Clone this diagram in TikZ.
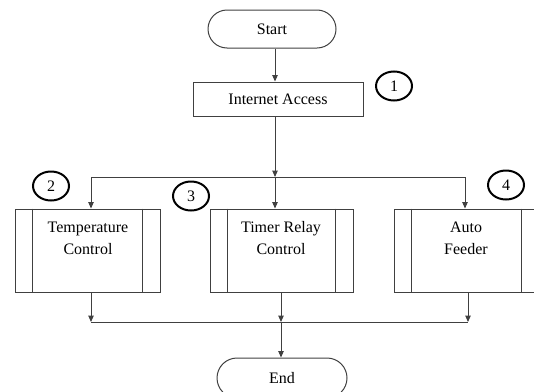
\documentclass[tikz,border=0pt]{standalone}
\usepackage{fontspec}
\setmainfont{Liberation Serif}
\usetikzlibrary{arrows.meta,shapes.geometric}
\tikzset{
  ln/.style={draw=black!75, line width=1pt},
  arr/.style={ln, -{Triangle[length=6.5pt,width=5.5pt]}},
  term/.style={ln, rounded corners=19pt, minimum width=128pt, minimum height=38pt, inner sep=0pt},
  proc/.style={ln, minimum width=170pt, minimum height=34pt, inner sep=0pt},
  pbox/.style={ln, minimum width=145pt, minimum height=83pt, inner sep=0pt},
  txt/.style={align=center, font=\fontsize{16}{22}\selectfont, inner sep=0pt},
  num/.style={ellipse, draw=black, line width=2pt, minimum width=36pt, minimum height=29pt, inner sep=0pt, font=\fontsize{16}{18}\selectfont}
}
\begin{document}
\begin{tikzpicture}[x=1pt,y=-1pt]
\useasboundingbox (0,0) rectangle (534,391);
\clip (0,0) rectangle (534,391);
\node[term, font=\fontsize{16}{18}\selectfont] (start) at (272,29) {Start};
\node[proc, font=\fontsize{16}{18}\selectfont] (ia) at (278,99) {Internet Access};
\node[pbox] (b1) at (87.5,250.5) {};
\node[pbox, minimum width=143pt] (b2) at (281.5,250.5) {};
\node[pbox] (b3) at (466.5,250.5) {};
\foreach \b in {b1,b2,b3}{
  \draw[ln] ([xshift=18pt]\b.north west) -- ([xshift=18pt]\b.south west);
  \draw[ln] ([xshift=-18pt]\b.north east) -- ([xshift=-18pt]\b.south east);
}
\node[txt] (t1) at (88,238) {Temperature\\Control};
\node[txt] (t2) at (281,238) {Timer Relay\\Control};
\node[txt] (t3) at (466,238) {Auto\\Feeder};
\node[term, minimum width=130pt, minimum height=40pt, rounded corners=20pt, font=\fontsize{16}{18}\selectfont] (end) at (282,378) {End};
\coordinate (split) at (275,177);
\coordinate (L) at (91,177);
\coordinate (R) at (465,177);
\coordinate (BL) at (91,322);
\coordinate (J) at (281,322);
\coordinate (BR) at (468,322);
\draw[arr] (start.south -| split) -- (ia.north -| split);
\draw[arr] (ia.south -| split) -- (split);
\draw[ln] (L) -- (R);
\draw[arr] (L) -- (L |- b1.north);
\draw[arr] (split) -- (split |- b2.north);
\draw[arr] (R) -- (R |- b3.north);
\draw[arr] (BL |- b1.south) -- (BL);
\draw[arr] (J |- b2.south) -- (J);
\draw[arr] (BR |- b3.south) -- (BR);
\draw[ln] (BL) -- (BR);
\draw[arr] (J) -- (end.north -| J);
\node[num] (c1) at (394,86) {1};
\node[num] (c2) at (51,186) {2};
\node[num] (c3) at (191,196) {3};
\node[num] (c4) at (506,185) {4};
\end{tikzpicture}
\end{document}
